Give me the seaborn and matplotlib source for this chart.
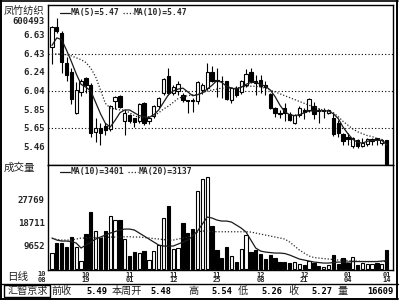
import numpy as np
import pandas as pd
import matplotlib
matplotlib.use("Agg")
import matplotlib.pyplot as plt
from matplotlib.lines import Line2D
from matplotlib.patches import Rectangle
import seaborn as sns

# ---------------- data ----------------
opens = [6.50, 6.71, 6.65, 6.34, 6.24, 5.81, 6.03, 6.18, 6.10, 5.61,
         5.65, 5.67, 5.64, 5.93, 5.99, 5.72, 5.79, 5.75, 5.72, 5.91,
         5.72, 5.78, 5.88, 6.02, 6.20, 6.02, 6.04, 6.00, 5.94, 5.95,
         5.93, 6.05, 6.07, 6.24, 6.16, 6.15, 6.14, 5.95, 6.07, 6.03,
         6.10, 6.24, 6.15, 6.16, 6.10, 6.01, 5.86, 5.81, 5.86, 5.80,
         5.70, 5.79, 5.84, 5.84, 5.88, 5.84, 5.83, 5.81, 5.75, 5.70,
         5.59, 5.55, 5.46, 5.52, 5.46, 5.48, 5.51, 5.54, 5.49, 5.52]
highs = [6.72, 6.81, 6.67, 6.40, 6.28, 6.13, 6.17, 6.19, 6.12, 5.76,
         5.70, 5.70, 5.89, 5.99, 6.00, 5.84, 5.80, 5.76, 5.91, 5.92,
         5.77, 5.89, 5.98, 6.18, 6.28, 6.10, 6.14, 6.02, 5.95, 5.97,
         6.15, 6.12, 6.34, 6.30, 6.28, 6.20, 6.15, 6.08, 6.09, 6.16,
         6.27, 6.28, 6.21, 6.21, 6.15, 6.02, 5.87, 5.84, 5.91, 5.82,
         5.80, 5.88, 5.86, 5.97, 5.92, 5.86, 5.86, 5.85, 5.82, 5.73,
         5.60, 5.60, 5.56, 5.53, 5.54, 5.54, 5.54, 5.54, 5.53, 5.52]
lows = [6.32, 6.65, 6.23, 6.14, 5.90, 5.80, 5.99, 6.02, 5.55, 5.50,
        5.47, 5.58, 5.62, 5.85, 5.86, 5.58, 5.70, 5.66, 5.70, 5.68,
        5.69, 5.76, 5.86, 6.00, 6.00, 6.00, 6.00, 5.92, 5.81, 5.82,
        5.90, 6.01, 6.05, 6.13, 5.98, 5.97, 5.94, 5.91, 5.98, 6.01,
        6.08, 6.12, 6.00, 6.02, 6.00, 5.85, 5.77, 5.76, 5.72, 5.72,
        5.69, 5.77, 5.74, 5.82, 5.74, 5.70, 5.76, 5.80, 5.57, 5.55,
        5.47, 5.47, 5.44, 5.44, 5.45, 5.46, 5.47, 5.47, 5.47, 5.26]
closes = [6.71, 6.67, 6.35, 6.21, 5.96, 6.05, 6.14, 6.10, 5.60, 5.65,
          5.60, 5.63, 5.88, 5.98, 5.87, 5.81, 5.72, 5.71, 5.90, 5.70,
          5.76, 5.88, 5.97, 6.17, 6.02, 6.08, 6.11, 5.94, 5.93, 5.93,
          6.13, 6.10, 6.24, 6.14, 6.14, 6.14, 5.96, 6.07, 6.00, 6.14,
          6.22, 6.15, 6.12, 6.09, 6.08, 5.86, 5.81, 5.80, 5.81, 5.73,
          5.79, 5.86, 5.82, 5.96, 5.80, 5.83, 5.84, 5.84, 5.59, 5.60,
          5.51, 5.53, 5.54, 5.46, 5.49, 5.53, 5.53, 5.53, 5.52, 5.27]
ma5 = [6.52, 6.60, 6.58, 6.47, 6.35, 6.22, 6.11, 6.08, 6.04, 5.92,
       5.80, 5.70, 5.66, 5.73, 5.81, 5.84, 5.84, 5.81, 5.78, 5.77,
       5.76, 5.79, 5.84, 5.92, 6.00, 6.04, 6.06, 6.07, 6.03, 5.99,
       6.00, 6.02, 6.06, 6.10, 6.15, 6.13, 6.09, 6.07, 6.06, 6.08,
       6.11, 6.13, 6.13, 6.11, 6.09, 6.05, 5.98, 5.89, 5.82, 5.79,
       5.78, 5.79, 5.81, 5.83, 5.83, 5.83, 5.83, 5.83, 5.80, 5.75,
       5.66, 5.59, 5.53, 5.50, 5.49, 5.51, 5.52, 5.52, 5.52, 5.47]
ma10 = [6.43, 6.43, 6.43, 6.42, 6.41, 6.39, 6.37, 6.34, 6.28, 6.19,
        6.05, 5.91, 5.86, 5.85, 5.84, 5.84, 5.81, 5.78, 5.76, 5.76,
        5.77, 5.78, 5.81, 5.85, 5.88, 5.92, 5.96, 5.98, 5.99, 6.00,
        6.00, 6.02, 6.04, 6.05, 6.06, 6.07, 6.07, 6.07, 6.07, 6.08,
        6.09, 6.09, 6.09, 6.08, 6.07, 6.05, 6.03, 6.01, 5.99, 5.97,
        5.95, 5.93, 5.91, 5.89, 5.87, 5.85, 5.84, 5.83, 5.81, 5.77,
        5.72, 5.68, 5.64, 5.61, 5.59, 5.57, 5.56, 5.54, 5.53, 5.47]
volumes = [6585, 10336, 10336, 8980, 12970, 8740, 3270, 13930, 22830, 15360,
           12570, 15360, 21350, 19630, 19630, 11930, 5270, 6980, 6350, 7380,
           3670, 7260, 9650, 20310, 25220, 7940, 8340, 18310, 14330, 15920,
           31200, 35880, 36910, 17240, 7660, 4590, 8860, 5270, 2990, 7940,
           13650, 6980, 7660, 5950, 4070, 5670, 4350, 2870, 2870, 2350,
           2750, 2080, 1680, 3270, 2590, 1280, 1000, 1680, 5670, 2080,
           4600, 2300, 5000, 1600, 2500, 2200, 2150, 2450, 2100, 7700]
vol_ma10 = [12450, 11650, 11250, 11250, 11050, 10450, 8460, 9650, 10850, 12050,
            12850, 13650, 14440, 15040, 15640, 16040, 16040, 15640, 14440, 13250,
            12050, 10850, 9650, 9260, 9260, 9260, 10050, 10850, 11650, 13250,
            15240, 18030, 20830, 20430, 19630, 19230, 19230, 18830, 17640, 16440,
            14840, 11650, 8460, 7260, 6860, 6660, 6460, 6460, 6260, 5670,
            4870, 4070, 3670, 3270, 2870, 2670, 2470, 2470, 2670, 2870,
            2870, 2870, 3070, 3070, 3070, 3070, 3070, 3070, 3270, 3401]
vol_ma20 = [12330, 11850, 11650, 11650, 11650, 12050, 12450, 12450, 12650, 12650,
            12650, 12650, 12850, 12850, 12850, 12970, 12970, 12850, 12850, 12650,
            12450, 12250, 12050, 11850, 11650, 11650, 12050, 12450, 12850, 13650,
            14840, 15240, 15240, 15040, 14960, 14960, 14960, 14960, 14960, 14960,
            14960, 14840, 14440, 14040, 13650, 13250, 12850, 12450, 12050, 10850,
            9260, 7660, 6460, 5270, 4670, 4470, 4270, 4070, 3870, 3670,
            3670, 3470, 3270, 3270, 3070, 3070, 3070, 3070, 3070, 3137]
price_ticks = [6.63, 6.43, 6.24, 6.04, 5.85, 5.65, 5.46]
price_grid = [6.43, 6.04, 5.65]
vol_ticks = [9652, 18711, 27769]
date_pos = [0, 7, 16, 25, 34, 43, 52, 61, 69]
date_labels = ["10\n08", "10\n19", "11\n01", "11\n12", "11\n25",
               "12\n08", "12\n21", "01\n04", "01\n14"]
stock_name = "凤竹纺织"
stock_code = "600493"
price_legend = ["MA(5)=5.47", "MA(10)=5.47"]
vol_legend = ["MA(10)=3401", "MA(20)=3137"]
status_items = [("前收", 62), ("5.49", 97), ("本周开", 127), ("5.48", 161),
                ("高", 193), ("5.54", 222), ("低", 243), ("5.26", 272),
                ("收", 293), ("5.27", 322), ("量", 343), ("16609", 380)]

# ---------------- style ----------------
sns.set_style("white")
plt.rcParams["font.family"] = ["DejaVu Sans Mono", "Noto Sans CJK SC"]
CJK = "Noto Sans CJK SC"
MONO = "DejaVu Sans Mono"
DOT = (0, (1, 1.5))
LINE_SOLID = "#1a1a1a"
LINE_DOT = "#2a2a2a"

W, H = 400, 300
fig = plt.figure(figsize=(4, 3), dpi=100, facecolor="white")


def fx(x):
    return x / W


def fy(y):
    return 1 - y / H


ax_p = fig.add_axes([fx(48), fy(165), 345 / W, 160 / H])
ax_v = fig.add_axes([fx(48), fy(270), 345 / W, 105 / H])

idx = np.arange(len(closes))
o = np.array(opens)
c = np.array(closes)
hi = np.array(highs)
lo = np.array(lows)
up = c >= o

# ---------------- price panel ----------------
for g in price_grid:
    ax_p.axhline(g, color="black", lw=0.8, ls=(0, (1, 2)), zorder=1)

ax_p.vlines(idx, lo, hi, color="black", lw=0.8, zorder=2)
body_h = np.maximum(np.abs(c - o), 0.006)
body_b = np.minimum(o, c)
ax_p.bar(idx[up], body_h[up], bottom=body_b[up], width=0.68,
         color="white", edgecolor="black", linewidth=0.8, zorder=3)
ax_p.bar(idx[~up], body_h[~up], bottom=body_b[~up], width=0.68,
         color="black", edgecolor="black", linewidth=0.8, zorder=3)

ma_df = pd.DataFrame({"idx": idx, "ma5": ma5, "ma10": ma10})
sns.lineplot(data=ma_df, x="idx", y="ma5", ax=ax_p, color=LINE_SOLID,
             linewidth=0.9, zorder=5)
ax_p.plot(ma_df["idx"], ma_df["ma10"], color=LINE_DOT, lw=0.9, ls=DOT, zorder=5)

ax_p.set_xlim(-0.82, 70.3)
ax_p.set_ylim(5.26, 6.946)
ax_p.set_yticks(price_ticks)
ax_p.set_yticklabels([f"{v:.2f}" for v in price_ticks],
                     fontfamily=MONO, fontweight="bold", fontsize=6.5)
ax_p.set_xticks([])
ax_p.set_xlabel("")
ax_p.set_ylabel("")
ax_p.tick_params(axis="y", length=0, pad=2.5)


def legend_row(ax, yfrac, labels, xs_px):
    wpx = 345.0
    s0, t1, d0, t2 = xs_px
    ax.add_line(Line2D([s0 / wpx, (s0 + 10) / wpx], [yfrac, yfrac], color=LINE_SOLID,
                       lw=0.9, transform=ax.transAxes))
    ax.text(t1 / wpx, yfrac, labels[0], transform=ax.transAxes, fontsize=5.8,
            va="center", ha="left", fontfamily=MONO, fontweight="bold")
    ax.add_line(Line2D([d0 / wpx, (d0 + 10) / wpx], [yfrac, yfrac], color=LINE_DOT,
                       lw=0.9, ls=DOT, transform=ax.transAxes))
    ax.text(t2 / wpx, yfrac, labels[1], transform=ax.transAxes, fontsize=5.8,
            va="center", ha="left", fontfamily=MONO, fontweight="bold")


legend_row(ax_p, 1 - 8 / 160, price_legend, (12, 23, 75, 86))

# ---------------- volume panel ----------------
vdf = pd.DataFrame({"idx": idx, "vol": volumes,
                    "dir": np.where(up, "up", "down")})
sns.barplot(data=vdf, x="idx", y="vol", hue="dir", native_scale=True,
            palette={"up": "white", "down": "black"}, dodge=False, width=0.68,
            edgecolor="black", linewidth=0.8, saturation=1, errorbar=None,
            legend=False, ax=ax_v, zorder=2)
ax_v.plot(idx, vol_ma10, color=LINE_SOLID, lw=0.9, zorder=4)
ax_v.plot(idx, vol_ma20, color=LINE_DOT, lw=0.9, ls=DOT, zorder=4)

ax_v.set_xlim(-0.82, 70.3)
ax_v.set_ylim(-300, 41600)
ax_v.set_yticks(vol_ticks)
ax_v.set_yticklabels([str(v) for v in vol_ticks],
                     fontfamily=MONO, fontweight="bold", fontsize=6.5)
ax_v.tick_params(axis="y", length=0, pad=2.5)
ax_v.set_xticks(date_pos[1:])
ax_v.set_xticklabels(date_labels[1:], fontfamily=MONO, fontweight="bold",
                     fontsize=5, linespacing=0.95)
ax_v.tick_params(axis="x", length=0, pad=1.2)
ax_v.set_xlabel("")
ax_v.set_ylabel("")
ax_v.text(-0.005, -0.012, date_labels[0], transform=ax_v.transAxes, ha="right",
          va="top", fontfamily=MONO, fontweight="bold", fontsize=5,
          linespacing=0.95)

legend_row(ax_v, 1 - 6.7 / 105, vol_legend, (12, 23, 80, 91))

for ax in (ax_p, ax_v):
    for s in ax.spines.values():
        s.set_color("black")
        s.set_linewidth(1.0)
    ax.grid(False)

# ---------------- left margin texts ----------------
fig.text(fx(4), fy(12), stock_name, fontfamily=CJK, fontsize=7.3,
         color="#222222", va="center", ha="left")
fig.text(fx(45), fy(22), stock_code, fontfamily=MONO, fontweight="bold",
         fontsize=6.5, va="center", ha="right")
fig.text(fx(4), fy(168), "成交量", fontfamily=CJK, fontsize=7.6,
         color="#222222", va="center", ha="left")
fig.text(fx(7), fy(277), "日线", fontfamily=CJK, fontsize=7.6,
         color="#222222", va="center", ha="left")

# ---------------- status bar ----------------
fig.text(fx(27.5), fy(291), "汇智京求", fontfamily=CJK, fontsize=7.3,
         color="#222222", va="center", ha="center")
for txt, xc in status_items:
    is_num = txt[0].isdigit()
    fig.text(fx(xc), fy(291), txt,
             fontfamily=MONO if is_num else CJK,
             fontweight="bold" if is_num else "normal",
             fontsize=6.2 if is_num else 7.3,
             color="black" if is_num else "#222222",
             va="center", ha="center")

# ---------------- frame lines ----------------
def hline(y, x0, x1, lw=1.0):
    fig.add_artist(Line2D([fx(x0), fx(x1)], [fy(y), fy(y)], color="black",
                          lw=lw, transform=fig.transFigure))


def vline(x, y0, y1, lw=1.0):
    fig.add_artist(Line2D([fx(x), fx(x)], [fy(y0), fy(y1)], color="black",
                          lw=lw, transform=fig.transFigure))


vline(0.7, 0, 299, lw=1.4)
hline(1.0, 0, 398, lw=1.2)
vline(396.8, 0, 299, lw=1.4)
hline(284, 0, 398, lw=1.0)
hline(298.5, 0, 398, lw=1.4)
fig.add_artist(Rectangle((fx(4), fy(297)), (50 - 4) / W, (297 - 285) / H,
                         fill=False, edgecolor="black", lw=1.0,
                         transform=fig.transFigure))

fig.savefig("out.png", dpi=100, facecolor="white")
